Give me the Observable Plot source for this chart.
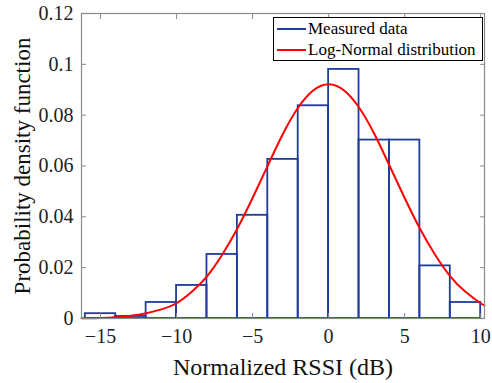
<!DOCTYPE html>
<html>
<head>
<meta charset="utf-8">
<script src="https://cdn.jsdelivr.net/npm/d3@7"></script>
<script src="https://cdn.jsdelivr.net/npm/@observablehq/plot@0.6"></script>
<style>
  html, body { margin: 0; padding: 0; background: #fff; }
  #wrap { position: relative; width: 492px; height: 383px; font-family: "Liberation Serif", "Times New Roman", serif; }
  #legend { position: absolute; left: 273px; top: 17px; width: 210px; height: 44px; border: 1px solid #000; background: #fff; box-sizing: border-box; font-size: 17px; }
  .row { position: absolute; left: 3px; height: 21px; display: flex; align-items: center; white-space: nowrap; }
  .row svg { margin-right: 2px; }
</style>
</head>
<body>
<div id="wrap"><div id="chart"></div>
  <div id="legend">
    <div class="row" style="top:0px"><svg width="29" height="4"><line x1="0" x2="29" y1="2" y2="2" stroke="#1f3c99" stroke-width="2"/></svg><span id="l1"></span></div>
    <div class="row" style="top:21px"><svg width="29" height="4"><line x1="0" x2="29" y1="2" y2="2" stroke="#ff0000" stroke-width="2"/></svg><span id="l2"></span></div>
  </div>
</div>
<script>
// Histogram bins (edges) and densities
const binStart = [-16, -14, -12, -10, -8, -6, -4, -2, 0, 2, 4, 6, 8];
const binEnd   = [-14, -12, -10, -8, -6, -4, -2, 0, 2, 4, 6, 8, 10];
const density  = [0.0019, 0.0008, 0.0063, 0.013, 0.0252, 0.0406, 0.0626, 0.0837, 0.098, 0.0702, 0.0702, 0.0207, 0.0063];

// Fitted curve points
const curveX = [-16.25, -16, -15, -14, -13, -12, -11, -10, -9, -8, -7, -6, -5, -4, -3, -2, -1, 0, 1, 2, 3, 4, 5, 6, 7, 8, 9, 10, 10.25];
const curveY = [0.0001, 0.0001, 0.0002, 0.0005, 0.0011, 0.0021, 0.0036, 0.0060, 0.0105, 0.0166, 0.0251, 0.0354, 0.0474, 0.0602, 0.0727, 0.0830, 0.0898, 0.0922, 0.0898, 0.0830, 0.0727, 0.0602, 0.0474, 0.0354, 0.0251, 0.0166, 0.0105, 0.0060, 0.0052];

const xTicks = [-15, -10, -5, 0, 5, 10];
const yTicks = [0, 0.02, 0.04, 0.06, 0.08, 0.1, 0.12];
const xLabel = "Normalized RSSI (dB)";
const yLabel = "Probability density function";
const seriesNames = ["Measured data", "Log-Normal distribution"];

document.getElementById("l1").textContent = seriesNames[0];
document.getElementById("l2").textContent = seriesNames[1];

const bins = binStart.map((s, i) => ({x1: s, x2: binEnd[i], y: density[i]}));
const curve = curveX.map((x, i) => ({x, y: curveY[i]}));

const serif = "'Liberation Serif', 'Times New Roman', serif";
const axisColor = "#8a8a8a";
const fmtY = d => d === 0 ? "0" : String(+d.toFixed(2));

const chart = Plot.plot({
  width: 492,
  height: 383,
  marginLeft: 81,
  marginRight: 8,
  marginTop: 13,
  marginBottom: 65,
  style: {fontSize: "15px", color: "#222", background: "#fff"},
  x: {domain: [-16.25, 10.25]},
  y: {domain: [0, 0.12]},
  marks: [
    Plot.rectY(bins, {x1: "x1", x2: "x2", y: "y", fill: "none", stroke: "#1f3c99", strokeWidth: 1.8}),
    Plot.line(curve, {x: "x", y: "y", stroke: "#ff0000", strokeWidth: 2, curve: "natural"}),
    Plot.frame({stroke: axisColor, strokeWidth: 1.2}),
    Plot.axisX(xTicks, {anchor: "bottom", tickSize: -5, tickPadding: 15, stroke: axisColor, fill: "#222", fontSize: 20, label: null}),
    Plot.axisX(xTicks, {anchor: "top", tickSize: -5, tickFormat: () => "", stroke: axisColor, label: null}),
    Plot.axisY(yTicks, {anchor: "left", tickSize: -5, tickPadding: 13, stroke: axisColor, fill: "#222", fontSize: 20, tickFormat: fmtY, label: null}),
    Plot.axisY(yTicks, {anchor: "right", tickSize: -5, tickFormat: () => "", stroke: axisColor, label: null}),
    Plot.text([xLabel], {frameAnchor: "bottom", dy: 56, fontSize: 24, fill: "#111"}),
    Plot.text([yLabel], {frameAnchor: "left", dx: -59, rotate: -90, textAnchor: "middle", fontSize: 23, fill: "#111"})
  ]
});
chart.style.setProperty("font-family", serif, "important");
d3.select(chart).selectAll("g, text").each(function() {
  this.removeAttribute("font-family");
  this.style.setProperty("font-family", serif, "important");
});
document.getElementById("chart").appendChild(chart);
</script>
</body>
</html>
